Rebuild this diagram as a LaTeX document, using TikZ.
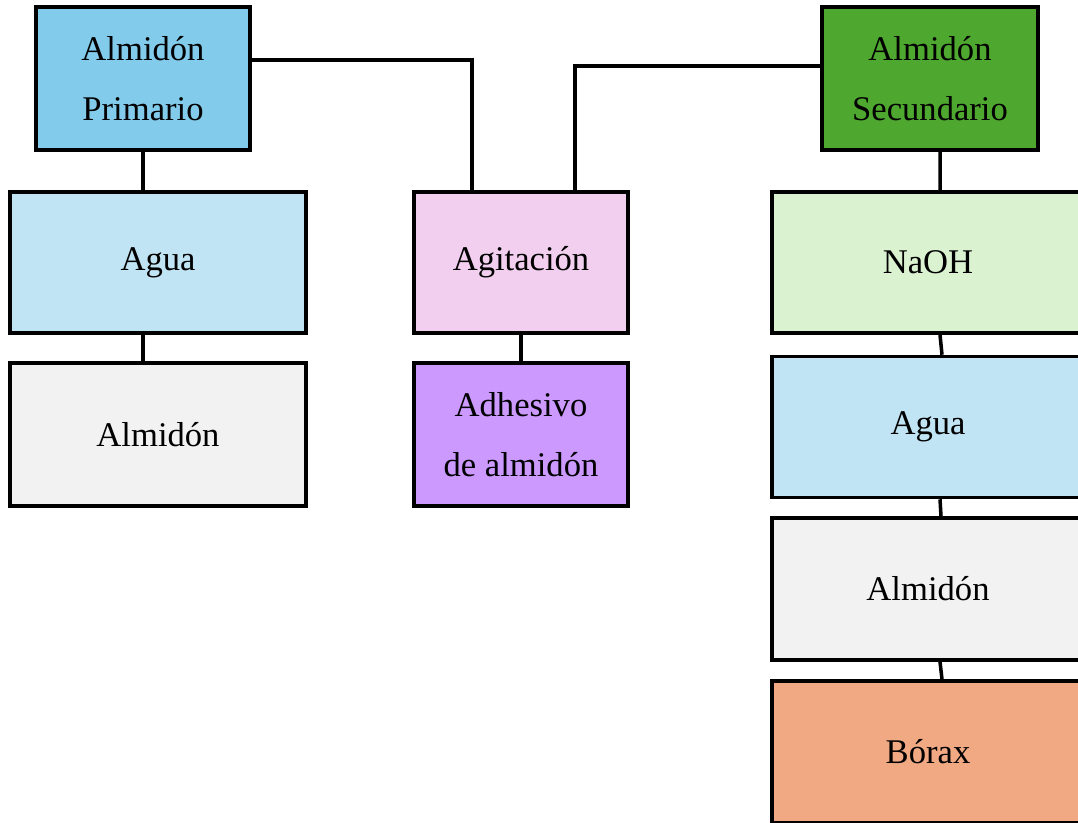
\documentclass[tikz,border=0pt]{standalone}
\usepackage{fontspec}
\setmainfont{Liberation Serif}
\usetikzlibrary{positioning}

\definecolor{primblue}{HTML}{83CBEB}
\definecolor{aguablue}{HTML}{C1E4F5}
\definecolor{almgray}{HTML}{F2F2F2}
\definecolor{agitpink}{HTML}{F2CEEF}
\definecolor{adhpurple}{HTML}{CC99FF}
\definecolor{secgreen}{HTML}{4EA72E}
\definecolor{naohgreen}{HTML}{DAF2D0}
\definecolor{boraxorange}{HTML}{F1A983}

\begin{document}
\begin{tikzpicture}[x=0.02cm,y=-0.02cm,
    box/.style={draw,line width=2pt,inner sep=0pt,align=center,
        font=\fontsize{19.7}{34}\selectfont},
    link/.style={line width=2pt}]
    \clip (0,0) rectangle (1078,822);
    \node[box,fill=primblue,minimum width=4.28cm,minimum height=2.86cm] (prim) at (143,78.5) {Almidón\\Primario};
    \node[box,fill=aguablue,minimum width=5.92cm,minimum height=2.82cm] (agua1) at (158,262.5) {Agua};
    \node[box,fill=almgray,minimum width=5.92cm,minimum height=2.86cm] (alm1) at (158,434.5) {Almidón};
    \node[box,fill=agitpink,minimum width=4.28cm,minimum height=2.82cm] (agit) at (521,262.5) {Agitación};
    \node[box,fill=adhpurple,minimum width=4.28cm,minimum height=2.86cm] (adh) at (521,434.5) {Adhesivo\\de almidón};
    \node[box,fill=secgreen,minimum width=4.32cm,minimum height=2.86cm] (sec) at (930,78.5) {Almidón\\Secundario};
    \node[box,fill=naohgreen,minimum width=6.24cm,minimum height=2.82cm] (naoh) at (928,262.5) {NaOH};
    \node[box,fill=aguablue,minimum width=6.24cm,minimum height=2.82cm] (agua2) at (928,427) {Agua};
    \node[box,fill=almgray,minimum width=6.24cm,minimum height=2.84cm] (alm2) at (928,589) {Almidón};
    \node[box,fill=boraxorange,minimum width=6.24cm,minimum height=2.84cm] (borax) at (928,752) {Bórax};

    \draw[link] (prim.south) -- (prim.south |- agua1.north);
    \draw[link] (agua1.south -| prim.south) -- (alm1.north -| prim.south);
    \draw[link] (agit.south) -- (adh.north);
    \draw[link] ([yshift=0.37cm]prim.east) -| ([xshift=-0.98cm]agit.north);
    \draw[link] ([yshift=0.25cm]sec.west) -| ([xshift=1.08cm]agit.north);
    \draw[link] ([xshift=0.2cm]sec.south) -- ([xshift=0.24cm]naoh.north);
    \draw[link] ([xshift=0.24cm]naoh.south) -- ([xshift=0.28cm]agua2.north);
    \draw[link] ([xshift=0.24cm]agua2.south) -- ([xshift=0.26cm]alm2.north);
    \draw[link] ([xshift=0.24cm]alm2.south) -- ([xshift=0.28cm]borax.north);
\end{tikzpicture}
\end{document}
